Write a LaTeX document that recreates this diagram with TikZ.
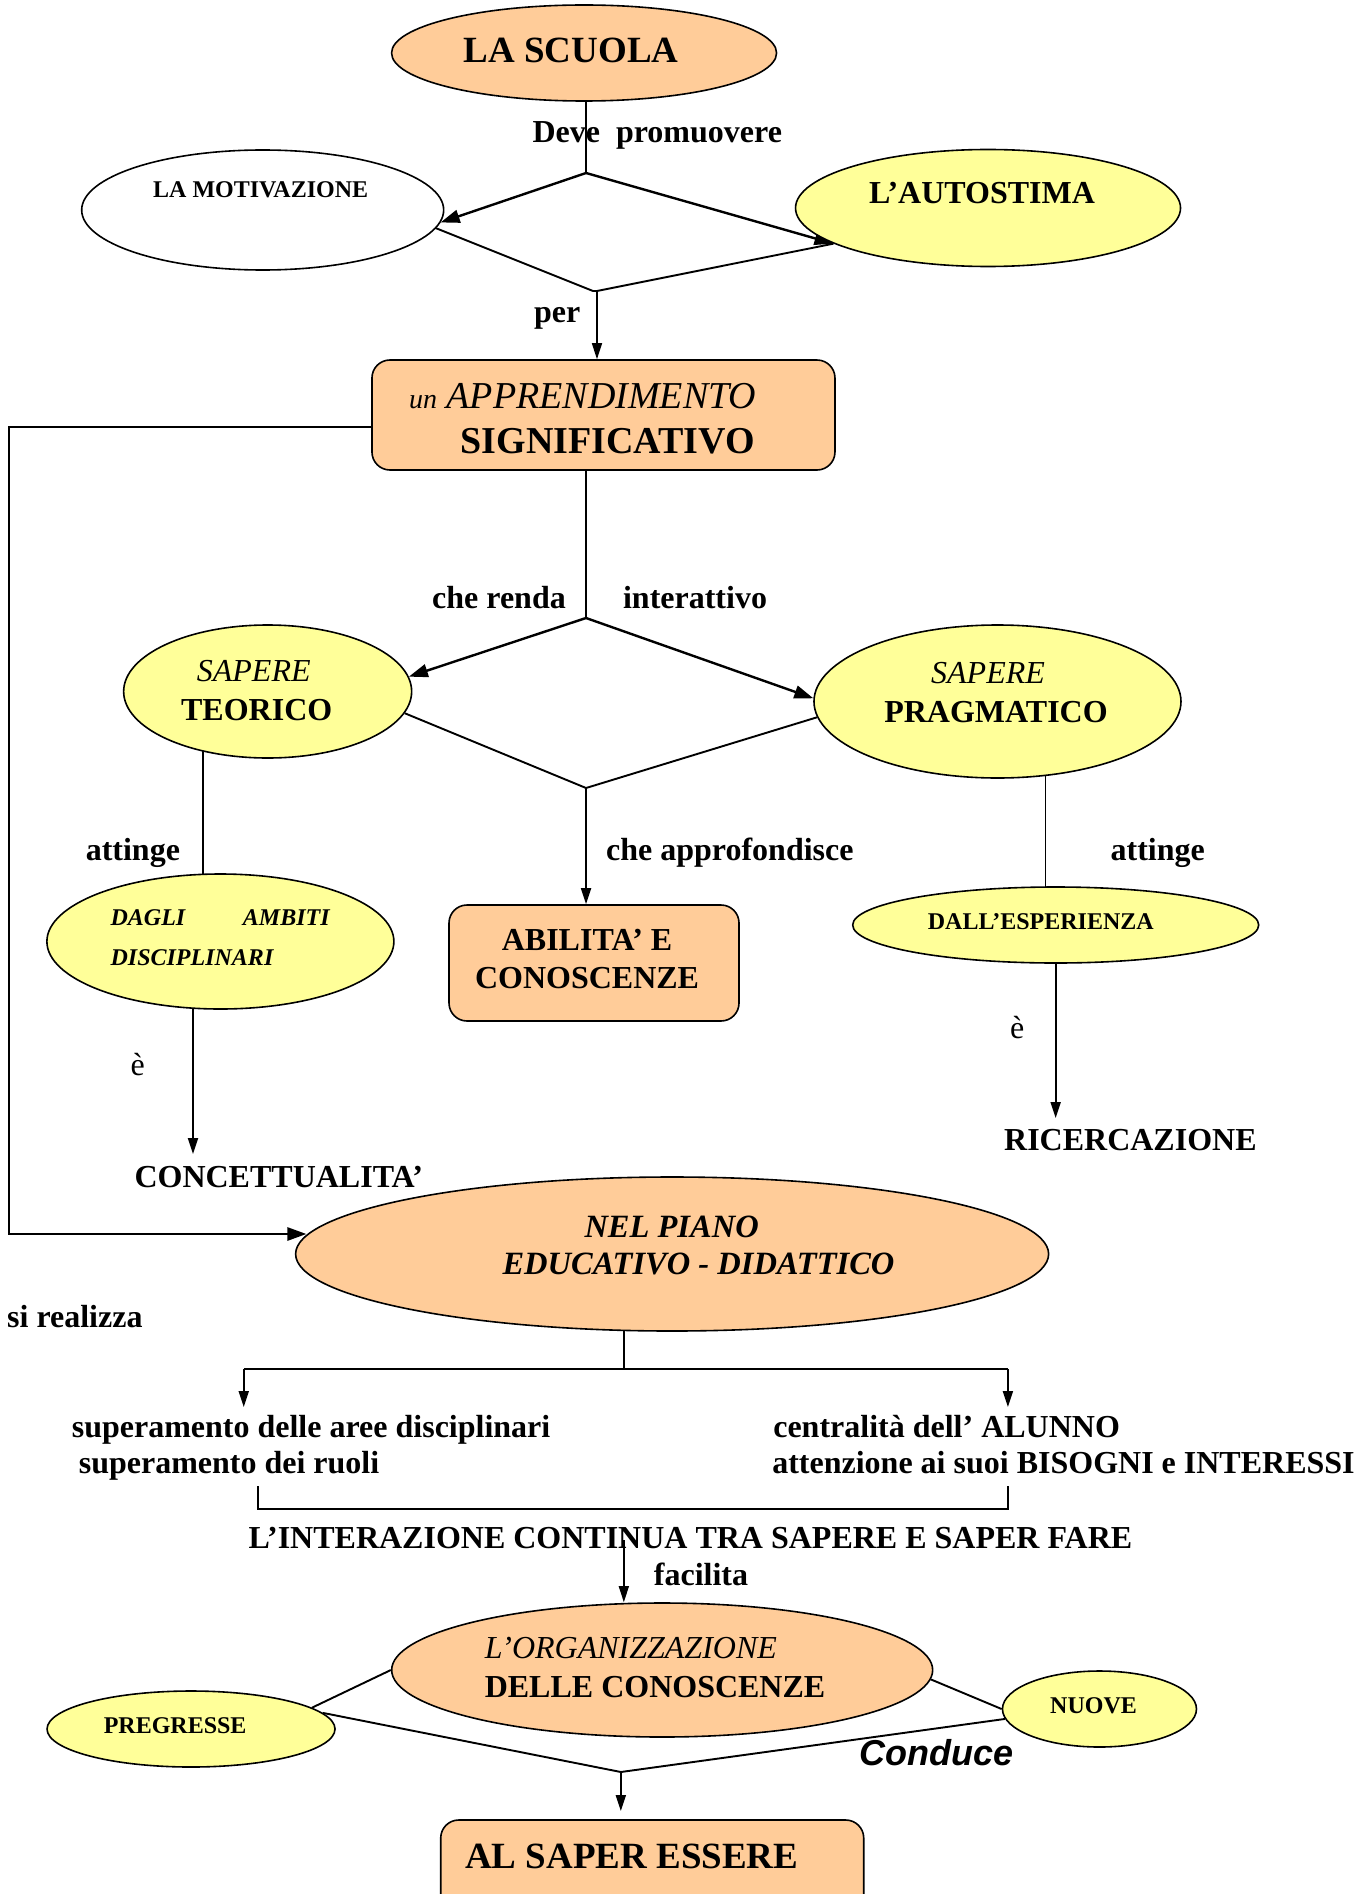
\documentclass[tikz,border=0pt]{standalone}
\usepackage{fontspec}
\setmainfont{Liberation Serif}
\newfontfamily\sansfam{Liberation Sans}
\usetikzlibrary{arrows.meta,shapes.geometric}
\definecolor{peach}{RGB}{255,204,153}
\definecolor{lyellow}{RGB}{255,255,153}
\pgfdeclarelayer{bg}
\pgfsetlayers{bg,main}
\tikzset{
  ell/.style={ellipse, draw, line width=1.6pt, inner sep=0pt},
  rbox/.style={rectangle, rounded corners=18pt, draw, line width=1.6pt, fill=peach, inner sep=0pt},
  txt/.style={inner sep=0pt, anchor=base},
  b32/.style={txt, font=\fontsize{32}{38}\selectfont\bfseries},
  b24/.style={txt, font=\fontsize{24}{28}\selectfont\bfseries},
  i32/.style={txt, font=\fontsize{32}{38}\selectfont\itshape},
  bi32/.style={txt, font=\fontsize{32.5}{38}\selectfont\bfseries\itshape},
  bi24/.style={txt, font=\fontsize{24}{28}\selectfont\bfseries\itshape},
  r32/.style={txt, font=\fontsize{32}{38}\selectfont},
  thinl/.style={line width=1.5pt},
  medl/.style={line width=1.9pt},
  thkl/.style={line width=2.4pt},
  arr/.style={-{Triangle[length=16pt,width=10pt]}},
  arrb/.style={-{Triangle[length=19pt,width=13pt]}},
}
\begin{document}
\begin{tikzpicture}[x=1pt,y=-1pt]
\useasboundingbox (0,0) rectangle (1362,1894);
\begin{scope}[xscale=0.995]
% ---------- shapes ----------
\node[ell, fill=peach, minimum width=385pt, minimum height=96pt] (scuola) at (587,53) {};
\node[ell, fill=white, minimum width=362pt, minimum height=120pt] (motiv) at (264,210) {};
\node[ell, fill=lyellow, minimum width=385pt, minimum height=117pt] (autost) at (993,208) {};
\node[rbox, minimum width=463pt, minimum height=110pt] (appr) at (606.5,415) {};
\node[ell, fill=lyellow, minimum width=288pt, minimum height=133pt] (teor) at (269,691.5) {};
\node[ell, fill=lyellow, minimum width=367pt, minimum height=153pt] (prag) at (1002.5,701.5) {};
\node[ell, fill=lyellow, minimum width=347pt, minimum height=135pt] (dagli) at (221.5,941.5) {};
\node[rbox, minimum width=290pt, minimum height=116pt] (abil) at (597,963) {};
\node[ell, fill=lyellow, minimum width=406pt, minimum height=76pt] (esp) at (1061,925) {};
\node[ell, fill=peach, minimum width=753pt, minimum height=154pt] (piano) at (675.5,1254) {};
\node[ell, fill=peach, minimum width=541pt, minimum height=134pt] (org) at (665.5,1670) {};
\node[ell, fill=lyellow, minimum width=288pt, minimum height=76pt] (preg) at (192,1729) {};
\node[ell, fill=lyellow, minimum width=194pt, minimum height=76pt] (nuove) at (1105,1709) {};
\node[rbox, minimum width=423pt, minimum height=130pt] (saper) at (655.5,1885) {};

% ---------- texts ----------
\node[txt, font=\fontsize{37}{42}\selectfont\bfseries] (tscuola) at (574,63) {LA SCUOLA};
\node[b32, anchor=base west] (tdeve) at (535,143) {Deve\ \ promuovere};
\node[b24] (tmotiv) at (262,198) {LA MOTIVAZIONE};
\node[b32] (tauto) at (987,204) {L’AUTOSTIMA};
\node[b32] (tper) at (560,322) {per};
\node[txt, anchor=base west, font=\fontsize{38}{42}\selectfont\itshape] (tappr1) at (411,408) {{\fontsize{28}{30}\selectfont un} APPRENDIMENTO};
\node[txt, anchor=base east, font=\fontsize{38}{42}\selectfont\bfseries] (tappr2) at (759,453) {SIGNIFICATIVO};
\node[b32] (trenda) at (501.5,608) {che renda};
\node[b32, anchor=base west] (tinter) at (626,608) {interattivo};
\node[i32] (tsap1) at (255,681) {SAPERE};
\node[b32] (tteor) at (258,720) {TEORICO};
\node[i32] (tsap2) at (993,683) {SAPERE};
\node[b32] (tprag) at (1001,722) {PRAGMATICO};
\node[b32, anchor=base west] (tatt1) at (86,860) {attinge};
\node[b32, anchor=base west] (tappro) at (609,860) {che approfondisce};
\node[b32, anchor=base west] (tatt2) at (1116,860) {attinge};
\node[bi24, anchor=base west] (tdagli1) at (111,925) {\hbox to 219pt{DAGLI\hfill AMBITI}};
\node[bi24, anchor=base west] (tdagli2) at (111,965) {DISCIPLINARI};
\node[b32] (tabil1) at (590,950) {ABILITA’ E};
\node[b32] (tabil2) at (590,988) {CONOSCENZE};
\node[b24] (tesp) at (1046,929) {DALL’ESPERIENZA};
\node[r32, anchor=base west] (te1) at (131,1075) {è};
\node[r32, anchor=base west] (te2) at (1015,1038) {è};
\node[b32, anchor=base west] (tconc) at (135,1187) {CONCETTUALITA’};
\node[b32, anchor=base west] (tric) at (1009,1150) {RICERCAZIONE};
\node[bi32] (tpiano1) at (675,1237) {NEL PIANO};
\node[bi32] (tpiano2) at (702,1274) {EDUCATIVO - DIDATTICO};
\node[b32, anchor=base west] (treal) at (7,1327) {si realizza};
\node[b32, anchor=base west] (tl1) at (72,1437) {superamento delle aree disciplinari};
\node[b32, anchor=base west] (tl2) at (79,1473) {superamento dei ruoli};
\node[b32, anchor=base west] (tr1) at (777,1437) {centralità dell’ ALUNNO};
\node[b32, anchor=base west] (tr2) at (776,1473) {attenzione ai suoi BISOGNI e INTERESSI};
\node[b32] (tinteraz) at (694,1548) {L’INTERAZIONE CONTINUA TRA SAPERE E SAPER FARE};
\node[b32, anchor=base west] (tfac) at (657,1585) {facilita};
\node[i32, anchor=base west] (torg1) at (487,1658) {L’ORGANIZZAZIONE};
\node[b32, anchor=base west] (torg2) at (487,1697) {DELLE CONOSCENZE};
\node[b24] (tpreg) at (176,1733) {PREGRESSE};
\node[b24] (tnuove) at (1099,1713) {NUOVE};
\node[txt, anchor=base west, font=\sansfam\bfseries\itshape\fontsize{36}{40}\selectfont] (tcond) at (864,1765) {Conduce};
\node[txt, font=\fontsize{37}{42}\selectfont\bfseries] (tsaper) at (635,1868) {AL SAPER ESSERE};

% ---------- junction coordinates ----------
\coordinate (d1) at (589,173);
\coordinate (d2) at (596,291);
\coordinate (d2b) at (600,291);
\coordinate (d3) at (589,618);
\coordinate (d4) at (589,788);
\coordinate (lp1) at (9,427);
\coordinate (lp2) at (9,1234);
\coordinate (tv) at (204,800);
\coordinate (pv) at (1051,830);
\coordinate (dtip) at (194,1154);
\coordinate (etip) at (1061,1118);
\coordinate (pj) at (627,1369);
\coordinate (barL) at (245,1369);
\coordinate (barR) at (1013,1369);
\coordinate (tipL) at (245,1407);
\coordinate (tipR) at (1013,1407);
\coordinate (brL) at (259,1486);
\coordinate (brR) at (1013,1486);
\coordinate (brLb) at (259,1509);
\coordinate (brRb) at (1013,1509);
\coordinate (ia) at (627,1540);
\coordinate (d5) at (624,1772);
\coordinate (stip) at (624,1811);

% ---------- connectors ----------
\begin{pgfonlayer}{bg}
\draw[thinl] (d1 |- scuola.center) -- (d1);
\draw[thkl, arrb] (d1) -- (motiv.-4);
\draw[thkl, arrb] (d1) -- (autost.193);
\draw[medl] (motiv.-6) -- (d2) -- (d2b) -- (autost.193);
\draw[thinl, arr] (d2b) -- (d2b |- appr.north);
\draw[thinl] (d3 |- appr.center) -- (d3);
\draw[thkl, arrb] (d3) -- (teor.6);
\draw[thkl, arrb] (d3) -- (prag.179);
\draw[medl] (teor.-9) -- (d4) -- (prag.185);
\draw[medl, arr] (d4) -- (d4 |- abil.north);
\draw[thinl] (teor.center -| tv) -- (dagli.center -| tv);
\draw[thinl] (prag.center -| pv) -- (esp.center -| pv);
\draw[medl, arr] (dagli.center -| dtip) -- (dtip);
\draw[medl, arr] (esp.center) -- (etip);
\draw[line width=2.6pt, arrb] (lp1 -| appr.center) -- (lp1) -- (lp2) -- (lp2 -| piano.177);
\draw[thinl] (piano.center -| pj) -- (pj);
\draw[medl] (barL) -- (barR);
\draw[medl, arr] (barL) -- (tipL);
\draw[medl, arr] (barR) -- (tipR);
\draw[medl] (brL) -- (brLb) -- (brRb) -- (brR);
\draw[thinl, arr] (ia) -- (ia |- org.north);
\draw[medl] (org.west) -- (preg.10);
\draw[medl] (org.-2) -- (nuove.west);
\draw[medl] (preg.7) -- (d5) -- (nuove.186);
\draw[medl, arr] (d5) -- (stip);
\end{pgfonlayer}
\end{scope}
\end{tikzpicture}
\end{document}
